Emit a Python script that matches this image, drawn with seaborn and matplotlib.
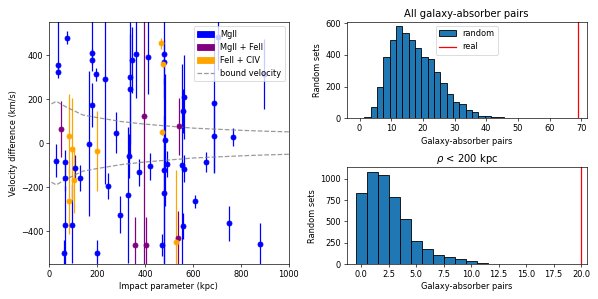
import numpy as np
import pandas as pd
import matplotlib
matplotlib.use("Agg")
import matplotlib.pyplot as plt
import seaborn as sns
from matplotlib.patches import Patch
from matplotlib.lines import Line2D

# ---------------- data ----------------
# MgII absorbers: impact parameter (kpc), velocity difference (km/s), lower / upper errors
mg_x = [28, 37, 37, 75, 67, 68, 67, 62, 97, 110, 128, 167, 178, 179, 181, 194, 200, 233, 244, 278,
        297, 328, 333, 337, 337, 346, 361, 376, 411, 419, 471, 478, 478, 481, 481, 483, 490, 561,
        558, 553, 564, 558, 607, 656, 689, 689, 703, 749, 767, 880, 896]
mg_v = [-80, 357, 324, 479, -88, -158, -374, -500, -374, -112, -160, -3, 171, 379, 409, 312, -500,
        292, -195, 48, -326, -235, -57, 299, 244, 377, 403, -133, 393, -106, -462, -226, -124, 403,
        370, 14, -95, 209, 145, -100, -116, -377, -265, -85, 183, 30, 482, -364, 27, -457, 315]
mg_lo = [75, 40, 30, 30, 56, 60, 180, 60, 170, 60, 60, 330, 100, 50, 50, 30, 60, 480, 60, 95,
         85, 310, 100, 350, 250, 150, 200, 60, 170, 60, 50, 350, 420, 200, 100, 300, 60, 190,
         100, 460, 60, 60, 28, 45, 320, 160, 150, 80, 40, 95, 160]
mg_hi = [75, 250, 30, 30, 56, 60, 180, 60, 190, 60, 60, 330, 100, 50, 150, 30, 60, 480, 60, 95,
         85, 310, 100, 250, 250, 150, 200, 60, 170, 60, 50, 350, 420, 200, 100, 300, 60, 190,
         100, 460, 60, 60, 28, 45, 320, 160, 150, 80, 40, 95, 160]

# MgII + FeII absorbers
mf_x = [49, 394, 358, 404, 540, 536]
mf_v = [65, 124, -465, -465, 77, -430]
mf_err = [128, 700, 130, 130, 130, 120]

# FeII + CIV absorbers
fc_x = [83, 83, 94, 104, 200, 465, 474, 469, 528]
fc_v = [33, -263, -27, -170, -36, 455, 361, 50, -448]
fc_err = [190, 150, 230, 150, 180, 25, 15, 15, 325]

# bound velocity curve
bound_x = [10, 30, 70, 140, 200, 300, 400, 500, 600, 700, 800, 900, 1000]
bound_v = [178, 190, 165, 128, 116, 98, 86, 77, 68, 63, 58, 54, 51]

# random-set histograms (bin width 2 starting at -0.5, and bin width 1 starting at -0.5)
all_counts = [5, 12, 73, 199, 387, 496, 580, 538, 496, 446, 387, 372, 291, 226, 157, 105, 88,
              52, 42, 17, 13, 6, 6, 3, 2, 2, 3, 1, 0, 1]
all_real = 69

near_counts = [833, 1078, 1047, 782, 529, 272, 179, 109, 78, 54, 31, 12, 4]
near_real = 20

# ---------------- figure ----------------
plt.rcParams['font.family'] = ['DejaVu Sans']
DPI = 59.8
fig = plt.figure(figsize=(598 / DPI, 299 / DPI), dpi=DPI)

ax0 = fig.add_axes([0.082, 0.117, 0.401, 0.809])
ax1 = fig.add_axes([0.580, 0.604, 0.401, 0.323])
ax2 = fig.add_axes([0.580, 0.117, 0.401, 0.323])

# left panel
ax0.errorbar(mg_x, mg_v, yerr=[mg_lo, mg_hi], fmt='o', color='blue')
ax0.errorbar(mf_x, mf_v, yerr=mf_err, fmt='o', color='purple')
ax0.errorbar(fc_x, fc_v, yerr=fc_err, fmt='o', color='orange')
bdf = pd.DataFrame({'x': bound_x, 'v': bound_v, 'nv': [-b for b in bound_v]})
sns.lineplot(data=bdf, x='x', y='v', ax=ax0, color='grey', linestyle='--', alpha=0.8)
sns.lineplot(data=bdf, x='x', y='nv', ax=ax0, color='grey', linestyle='--', alpha=0.8)
ax0.set_xlim(0, 1000)
ax0.set_ylim(-550, 550)
ax0.set_xlabel('Impact parameter (kpc)')
ax0.set_ylabel('Velocity difference (km/s)')
handles = [Patch(color='blue', label='MgII'),
           Patch(color='purple', label='MgII + FeII'),
           Patch(color='orange', label='FeII + CIV'),
           Line2D([], [], color='grey', linestyle='--', alpha=0.8, label='bound velocity')]
ax0.legend(handles=handles, loc='upper right')

# top right
w1 = 2
df1 = pd.DataFrame({'c': 0.5 + w1 * np.arange(len(all_counts)), 'n': all_counts})
sns.histplot(data=df1, x='c', weights='n', binwidth=w1,
             binrange=(-0.5, -0.5 + w1 * len(all_counts)), ax=ax1, color='C0',
             edgecolor='black', alpha=1, linewidth=1)
ax1.axvline(all_real, color='red')
ax1.set_xlim(-4, 71.7)
ax1.set_xticks(np.arange(0, 71, 10))
ax1.set_title('All galaxy-absorber pairs')
ax1.set_xlabel('Galaxy-absorber pairs')
ax1.set_ylabel('Random sets')
ax1.legend(handles=[Patch(facecolor='C0', edgecolor='black', label='random'),
                    Line2D([], [], color='red', label='real')], loc='upper center')

# bottom right
w2 = 1
df2 = pd.DataFrame({'c': 0.0 + w2 * np.arange(len(near_counts)), 'n': near_counts})
sns.histplot(data=df2, x='c', weights='n', binwidth=w2,
             binrange=(-0.5, -0.5 + w2 * len(near_counts)), ax=ax2, color='C0',
             edgecolor='black', alpha=1, linewidth=1)
ax2.axvline(near_real, color='red')
ax2.set_xlim(-1.3, 20.5)
ax2.set_xticks(np.arange(0, 20.1, 2.5))
ax2.set_title(r'$\rho$ < 200 kpc')
ax2.set_xlabel('Galaxy-absorber pairs')
ax2.set_ylabel('Random sets')

fig.savefig('out.png', dpi=DPI)
